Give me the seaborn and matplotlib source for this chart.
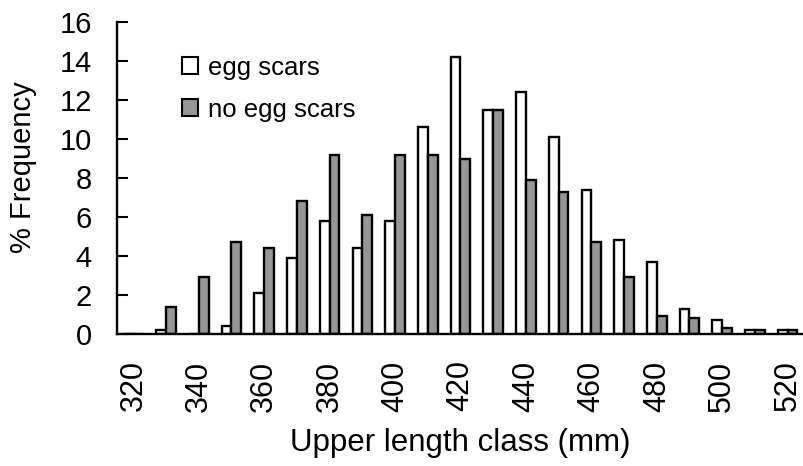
import numpy as np
import pandas as pd
import matplotlib
matplotlib.use("Agg")
import matplotlib.pyplot as plt
from matplotlib.patches import Patch
import seaborn as sns

# Upper length class (mm) and percentage frequency per group
length_classes = [320, 330, 340, 350, 360, 370, 380, 390, 400, 410, 420,
                  430, 440, 450, 460, 470, 480, 490, 500, 510, 520]
egg_scars = [0.0, 0.2, 0.0, 0.4, 2.1, 3.9, 5.8, 4.4, 5.8, 10.6, 14.2,
             11.5, 12.4, 10.1, 7.4, 4.8, 3.7, 1.3, 0.7, 0.2, 0.2]
no_egg_scars = [0.0, 1.4, 2.9, 4.7, 4.4, 6.8, 9.2, 6.1, 9.2, 9.2, 9.0,
                11.5, 7.9, 7.3, 4.7, 2.9, 0.9, 0.8, 0.3, 0.2, 0.2]
group_labels = ["egg scars", "no egg scars"]
y_ticks = [0, 2, 4, 6, 8, 10, 12, 14, 16]

df = pd.DataFrame({
    "length": [str(v) for v in length_classes] * 2,
    "pct": egg_scars + no_egg_scars,
    "group": [group_labels[0]] * len(length_classes) + [group_labels[1]] * len(length_classes),
})

sns.set_style("white")
plt.rcParams["font.family"] = ["Liberation Sans", "DejaVu Sans"]
plt.rcParams.update({"text.color": "black", "axes.labelcolor": "black",
                     "xtick.color": "black", "ytick.color": "black"})

colors = {group_labels[0]: "#ffffff", group_labels[1]: "#969696"}

fig = plt.figure(figsize=(8.04, 4.66), dpi=100)
ax = fig.add_axes([117 / 804, 1 - 334 / 466, 687 / 804, 312 / 466])

sns.barplot(data=df, x="length", y="pct", hue="group", palette=colors,
            order=[str(v) for v in length_classes], hue_order=group_labels,
            width=0.6, edgecolor="black", linewidth=1.7, saturation=1,
            ax=ax, legend=False)

ax.set_xlim(-0.5, len(length_classes) - 0.5)
ax.set_ylim(0, 16)
ax.set_yticks(y_ticks)
ax.set_yticklabels([str(t) for t in y_ticks], fontsize=21)

# Labels on every other class, separator ticks between classes
major_pos = list(range(0, len(length_classes), 2))
ax.set_xticks(major_pos)
ax.set_xticklabels([str(length_classes[i]) for i in major_pos], rotation=90, fontsize=22)
ax.set_xticks(np.arange(0.5, len(length_classes) - 1, 1.0), minor=True)
ax.tick_params(axis="x", which="major", length=0, pad=19)
ax.tick_params(axis="x", which="minor", direction="in", length=7.5, width=1.5, color="black")
ax.tick_params(axis="y", direction="in", length=8, width=1.5, color="black", pad=18, left=True)

for side in ["top", "right"]:
    ax.spines[side].set_visible(False)
for side in ["left", "bottom"]:
    ax.spines[side].set_linewidth(1.7)
    ax.spines[side].set_color("black")

ax.set_xlabel("Upper length class (mm)", fontsize=22.5, labelpad=12)
ax.set_ylabel("% Frequency", fontsize=21)
ax.yaxis.set_label_coords(-0.117, 0.534)

handles = [Patch(facecolor=colors[g], edgecolor="black", linewidth=1.5, label=g) for g in group_labels]
ax.legend(handles=handles, loc="upper left", bbox_to_anchor=(0.08, 0.925),
          frameon=False, fontsize=18.5, handlelength=0.6, handleheight=0.6,
          handletextpad=0.4, labelspacing=0.7, borderaxespad=0)

fig.savefig("out.png", dpi=100)
